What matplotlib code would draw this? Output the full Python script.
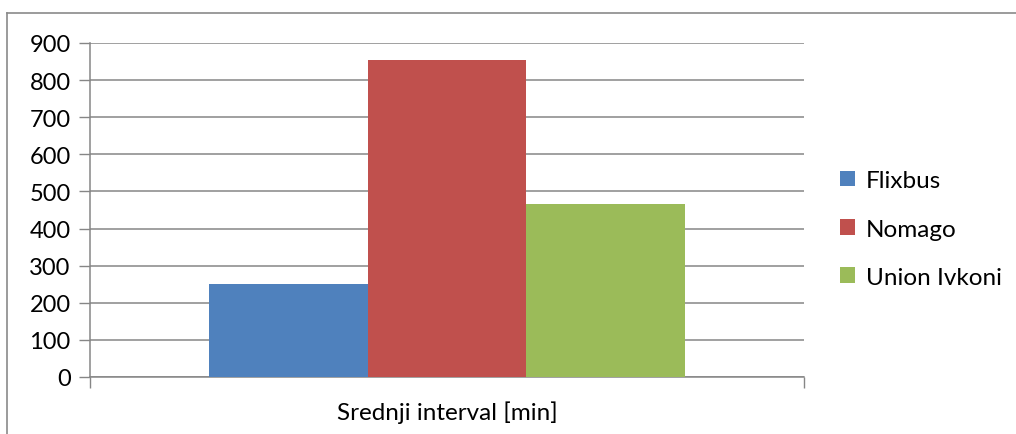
import matplotlib
matplotlib.use("Agg")
import matplotlib.pyplot as plt
from matplotlib.lines import Line2D
import numpy as np

plt.rcParams['font.family'] = ['Lato', 'DejaVu Sans']

category = "Srednji interval [min]"
series = ["Flixbus", "Nomago", "Union Ivkoni"]
values = [250, 854, 466]
colors = ["#4f81bd", "#c0504d", "#9bbb59"]

W, H = 1016, 435
fig = plt.figure(figsize=(W / 100, H / 100), dpi=100)
ax = fig.add_axes([90 / W, (H - 378) / H, (804 - 90) / W, (378 - 44) / H])

bw = 0.667 / 3
for i, (name, v, c) in enumerate(zip(series, values, colors)):
    ax.bar((i - 1) * bw, v, width=bw, color=c, label=name, zorder=3)

grid_c = "#868686"
fs = 17
ax.set_xlim(-0.5, 0.5)
ax.set_ylim(0, 900)
ax.set_yticks(np.arange(0, 901, 100))
ax.yaxis.grid(True, color=grid_c, lw=1.1, zorder=0)
ax.set_xticks([-0.5, 0.5])
ax.set_xticklabels(["", ""])
ax.tick_params(axis='x', length=8, color=grid_c, width=1)
ax.tick_params(axis='y', length=8, color=grid_c, width=1, labelsize=fs, pad=6)
for s in ["top", "right"]:
    ax.spines[s].set_visible(False)
for s in ["left", "bottom"]:
    ax.spines[s].set_color(grid_c)
    ax.spines[s].set_linewidth(1.1)
ax.text(0, -0.105, category, transform=ax.get_xaxis_transform(), ha='center', va='center', fontsize=fs + 0.5)

leg = ax.legend(loc='center left', bbox_to_anchor=(1.02, 0.443), frameon=False,
                fontsize=fs + 0.5, handlelength=0.6, handleheight=0.6, handletextpad=0.45,
                labelspacing=1.12)

# outer chart border (top and left only visible)
fig.add_artist(Line2D([7 / W, 7 / W], [0, (H - 14) / H], color="#8a8a8a", lw=1.2, transform=fig.transFigure))
fig.add_artist(Line2D([7 / W, 1], [(H - 14) / H, (H - 14) / H], color="#8a8a8a", lw=1.2, transform=fig.transFigure))

fig.savefig("out.png", dpi=100)
